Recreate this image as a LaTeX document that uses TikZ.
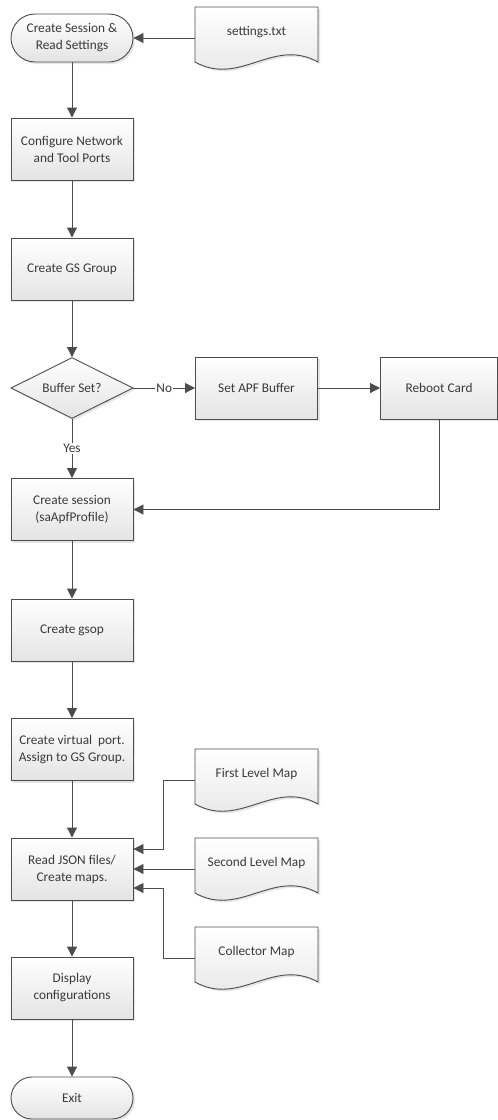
\documentclass[tikz,border=0pt]{standalone}
\usepackage{fontspec}
\setmainfont{Carlito}
\usetikzlibrary{shapes.geometric,arrows.meta,shadows}
\definecolor{linegray}{HTML}{4D4D4D}
\definecolor{textgray}{HTML}{3A3A3A}
\definecolor{shadegray}{HTML}{E4E4E4}
\newcommand{\docnode}[3]{%
  \draw[doc, shift={(#2)}] (-61.5,-31) -- (61.5,-31) -- (61.5,24)
    .. controls (16.5,-1) and (-16.5,49) .. (-61.5,24) -- cycle;
  \node[docbox] (#1) at (#2) {#3};}
\begin{document}
\begin{tikzpicture}[x=1pt,y=-1pt]
\tikzstyle{every node}=[font=\fontsize{13.3}{17}\selectfont, text=textgray, align=center]
\tikzstyle{box}=[rectangle, draw=linegray, line width=0.9pt, top color=white, bottom color=shadegray,
  drop shadow={shadow xshift=2pt, shadow yshift=-2pt, fill=black!20, opacity=0.5},
  minimum width=122pt, minimum height=62pt, inner sep=2pt]
\tikzstyle{term}=[box, rounded corners=24pt, minimum height=48pt]
\tikzstyle{decision}=[box, diamond, aspect=2, minimum width=122pt, minimum height=61pt, inner sep=0pt]
\tikzstyle{doc}=[draw=linegray, line width=0.9pt, top color=white, bottom color=shadegray,
  drop shadow={shadow xshift=2pt, shadow yshift=-2pt, fill=black!20, opacity=0.5}]
\tikzstyle{docbox}=[rectangle, minimum width=123pt, minimum height=62pt, inner sep=0pt, text depth=15pt]
\tikzstyle{line}=[draw=linegray, line width=0.9pt]
\tikzstyle{arrow}=[line, -{Triangle[length=10pt,width=10pt]}]
\tikzstyle{lbl}=[fill=white, inner sep=1pt]

\path[fill=white] (0,0) rectangle (498,1120);

\node[term] (start) at (72,38) {Create Session \&\\Read Settings};
\docnode{settings}{256.5,38}{settings.txt}
\node[box] (config) at (72,149) {Configure Network\\and Tool Ports};
\node[box] (gsgroup) at (72,269) {Create GS Group};
\node[decision] (buffer) at (72,388) {Buffer Set?};
\node[box] (apf) at (256.5,388) {Set APF Buffer};
\node[box, minimum width=117pt] (reboot) at (439,388) {Reboot Card};
\node[box] (session) at (72,509.5) {Create session\\(saApfProfile)};
\node[box] (gsop) at (72,630) {Create gsop};
\node[box] (vport) at (72,749.5) {Create virtual\ \ port.\\Assign to GS Group.};
\node[box] (json) at (72,869) {Read JSON files/\\Create maps.};
\docnode{first}{256.5,780}{First Level Map}
\docnode{second}{256.5,869}{Second Level Map}
\docnode{collector}{256.5,958}{Collector Map}
\node[box] (display) at (72,988) {Display\\configurations};
\node[term, minimum height=42pt, rounded corners=21pt] (exit) at (72,1098) {Exit};

\draw[arrow] (settings) -- (start);
\draw[arrow] (start) -- (config);
\draw[arrow] (config) -- (gsgroup);
\draw[arrow] (gsgroup) -- (buffer);
\draw[arrow] (buffer) -- node[lbl] {No} (apf);
\draw[arrow] (apf) -- (reboot);
\draw[arrow] (buffer) -- node[lbl] {Yes} (session);
\draw[arrow] (reboot) |- (session);
\draw[arrow] (session) -- (gsop);
\draw[arrow] (gsop) -- (vport);
\draw[arrow] (vport) -- (json);
\draw[arrow] (json) -- (display);
\draw[arrow] (display) -- (exit);
\draw[arrow] (first.west) -- ++(-31,0) |- ([yshift=20pt]json.east);
\draw[arrow] (second) -- (json);
\draw[arrow] (collector.west) -- ++(-31,0) |- ([yshift=-19pt]json.east);
\end{tikzpicture}
\end{document}
